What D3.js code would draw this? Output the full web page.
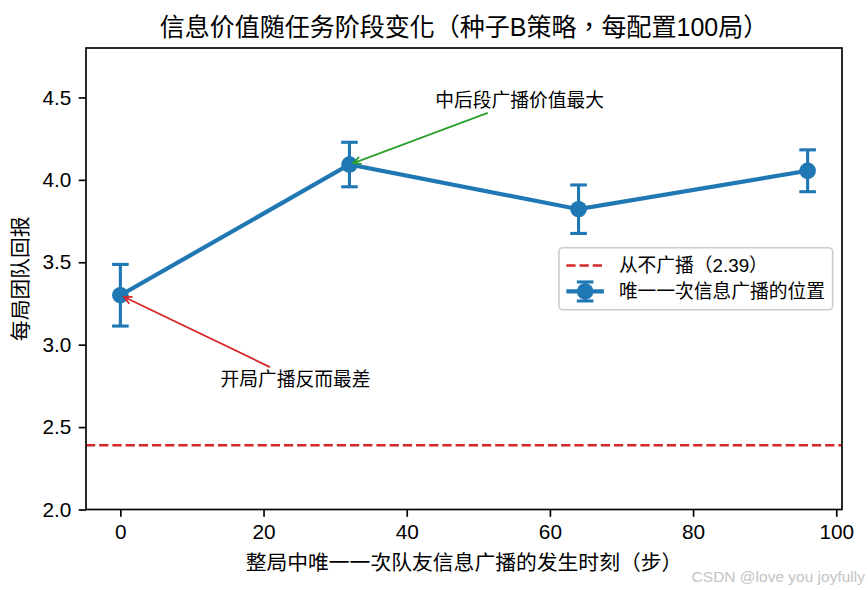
<!DOCTYPE html>
<html>
<head>
<meta charset="utf-8">
<script src="https://cdn.jsdelivr.net/npm/d3@7"></script>
<style>
    body { margin: 0; background: #fff; }
    text { font-family: 'Liberation Sans', 'Noto Sans CJK TC', sans-serif; }
</style>
</head>
<body>
<div class="chart"></div>
<script>
var width = 868
var height = 590

// data
var steps = [0, 32, 64, 96]
var meanReturn = [3.30, 4.093, 3.822, 4.055]
var errReturn = [0.187, 0.135, 0.147, 0.127]
var neverBroadcast = 2.39

var xTicks = [0, 20, 40, 60, 80, 100]
var yTicks = [2.0, 2.5, 3.0, 3.5, 4.0, 4.5]

var titleText = '信息价值随任务阶段变化（种子B策略，每配置100局）'
var xLabelText = '整局中唯一一次队友信息广播的发生时刻（步）'
var yLabelText = '每局团队回报'
var legendLabels = ['从不广播（2.39）', '唯一一次信息广播的位置']

// annotations: text, text position, arrow target, colour
var noteTexts = ['中后段广播价值最大', '开局广播反而最差']
var noteTextPos = [[44, 4.44], [14, 2.75]]
var noteTargets = [[32, 4.093], [0, 3.30]]
var noteColors = ['#2ca02c', '#d62728']

var margin = { left: 86, right: 26, top: 48, bottom: 80.5 }
var blue = '#1f77b4'

var svg = d3.select('.chart').append('svg')
    .attr('width', width)
    .attr('height', height)

svg.append('rect').attr('width', width).attr('height', height).attr('fill', '#fff')

var x = d3.scaleLinear()
    .domain([-4.8, 100.8])
    .range([margin.left, width - margin.right])

var y = d3.scaleLinear()
    .domain([2.0, 4.8])
    .range([height - margin.bottom, margin.top])

var x0 = x.range()[0], x1 = x.range()[1]
var y0 = y.range()[0], y1 = y.range()[1]

// never broadcast baseline
svg.append('line')
    .attr('x1', x0).attr('x2', x1)
    .attr('y1', y(neverBroadcast)).attr('y2', y(neverBroadcast))
    .attr('stroke', '#d62728')
    .attr('stroke-width', 2.5)
    .attr('stroke-dasharray', '9.2,4')

var pts = steps.map(function (s, i) { return { x: s, y: meanReturn[i], e: errReturn[i] } })

// main line
svg.append('path')
    .datum(pts)
    .attr('d', d3.line().x(function (d) { return x(d.x) }).y(function (d) { return y(d.y) }))
    .attr('fill', 'none')
    .attr('stroke', blue)
    .attr('stroke-width', 4.2)

// error bars
var eb = svg.append('g').selectAll('g').data(pts).enter().append('g')
eb.append('line')
    .attr('x1', function (d) { return x(d.x) }).attr('x2', function (d) { return x(d.x) })
    .attr('y1', function (d) { return y(d.y - d.e) }).attr('y2', function (d) { return y(d.y + d.e) })
    .attr('stroke', blue).attr('stroke-width', 3.1)
eb.append('line')
    .attr('x1', function (d) { return x(d.x) - 8.3 }).attr('x2', function (d) { return x(d.x) + 8.3 })
    .attr('y1', function (d) { return y(d.y + d.e) }).attr('y2', function (d) { return y(d.y + d.e) })
    .attr('stroke', blue).attr('stroke-width', 3.1)
eb.append('line')
    .attr('x1', function (d) { return x(d.x) - 8.3 }).attr('x2', function (d) { return x(d.x) + 8.3 })
    .attr('y1', function (d) { return y(d.y - d.e) }).attr('y2', function (d) { return y(d.y - d.e) })
    .attr('stroke', blue).attr('stroke-width', 3.1)
eb.append('circle')
    .attr('cx', function (d) { return x(d.x) })
    .attr('cy', function (d) { return y(d.y) })
    .attr('r', 8.3)
    .attr('fill', blue)

// axes
var xAxis = svg.append('g')
    .attr('transform', 'translate(0,' + y0 + ')')
    .call(d3.axisBottom(x).tickValues(xTicks).tickSize(7.3).tickPadding(7.3).tickFormat(d3.format('d')))
var yAxis = svg.append('g')
    .attr('transform', 'translate(' + x0 + ',0)')
    .call(d3.axisLeft(y).tickValues(yTicks).tickSize(7.3).tickPadding(7.3).tickFormat(d3.format('.1f')))

;[xAxis, yAxis].forEach(function (g) {
    g.select('.domain').remove()
    g.selectAll('.tick line').attr('stroke', '#000').attr('stroke-width', 1.67)
    g.selectAll('.tick text').attr('fill', '#000').style('font-size', '20.8px')
})

// frame
svg.append('rect')
    .attr('x', x0).attr('y', y1)
    .attr('width', x1 - x0).attr('height', y0 - y1)
    .attr('fill', 'none')
    .attr('stroke', '#000')
    .attr('stroke-width', 1.67)

// titles
svg.append('text')
    .attr('x', (x0 + x1) / 2).attr('y', 36)
    .attr('text-anchor', 'middle')
    .style('font-size', '25px')
    .text(titleText)

svg.append('text')
    .attr('x', (x0 + x1) / 2).attr('y', 570)
    .attr('text-anchor', 'middle')
    .style('font-size', '20.8px')
    .text(xLabelText)

svg.append('text')
    .attr('transform', 'translate(28,' + ((y0 + y1) / 2) + ') rotate(-90)')
    .attr('text-anchor', 'middle')
    .style('font-size', '20.8px')
    .text(yLabelText)

// annotations with '->' arrows
noteTexts.forEach(function (t, i) {
    var txt = svg.append('text')
        .attr('x', x(noteTextPos[i][0]))
        .attr('y', y(noteTextPos[i][1]))
        .style('font-size', '18.75px')
        .text(t)
    var bb = txt.node().getBBox()
    var cx = bb.x + bb.width / 2, cy = bb.y + bb.height / 2
    var px = x(noteTargets[i][0]), py = y(noteTargets[i][1])
    var dx = px - cx, dy = py - cy
    var len = Math.sqrt(dx * dx + dy * dy)
    var ux = dx / len, uy = dy / len
    var tEdge = Math.min((bb.width / 2) / Math.abs(dx), (bb.height / 2) / Math.abs(dy))
    var sx = cx + dx * tEdge + ux * 4.2, sy = cy + dy * tEdge + uy * 4.2
    var ex = px - ux * 4.2, ey = py - uy * 4.2
    var hl = 7.5, hw = 3.75
    var bx = ex - ux * hl, by = ey - uy * hl
    svg.append('path')
        .attr('d', 'M' + sx + ',' + sy + 'L' + ex + ',' + ey +
            'M' + (bx - uy * hw) + ',' + (by + ux * hw) + 'L' + ex + ',' + ey +
            'L' + (bx + uy * hw) + ',' + (by - ux * hw))
        .attr('fill', 'none')
        .attr('stroke', noteColors[i])
        .attr('stroke-width', 1.8)
})

// legend, centre right
var fs = 18.75
var leg = svg.append('g')
var legText = leg.selectAll('text').data(legendLabels).enter().append('text')
    .style('font-size', fs + 'px')
    .attr('dy', '0.35em')
    .text(function (d) { return d })
var textW = d3.max(legText.nodes(), function (n) { return n.getComputedTextLength() })
var legW = 0.4 * fs + 2 * fs + 0.8 * fs + textW + 0.4 * fs
var legH = 62
var legX = x1 - 0.5 * fs - legW
var legY = (y0 + y1) / 2 - legH / 2
leg.insert('rect', 'text')
    .attr('x', legX).attr('y', legY)
    .attr('width', legW).attr('height', legH)
    .attr('rx', 4)
    .attr('fill', '#fff').attr('fill-opacity', 0.8)
    .attr('stroke', '#cccccc').attr('stroke-width', 1.6)
var hx0 = legX + 0.4 * fs, hx1 = hx0 + 2 * fs, hxm = (hx0 + hx1) / 2
var rowY = [legY + 17.7, legY + 43.7]
legText.attr('x', hx1 + 0.8 * fs).attr('y', function (d, i) { return rowY[i] })
leg.append('line')
    .attr('x1', hx0).attr('x2', hx1).attr('y1', rowY[0]).attr('y2', rowY[0])
    .attr('stroke', '#d62728').attr('stroke-width', 2.5).attr('stroke-dasharray', '9.2,4')
leg.append('line')
    .attr('x1', hx0).attr('x2', hx1).attr('y1', rowY[1]).attr('y2', rowY[1])
    .attr('stroke', blue).attr('stroke-width', 4.2)
leg.append('line')
    .attr('x1', hxm).attr('x2', hxm).attr('y1', rowY[1] - 9.5).attr('y2', rowY[1] + 9.5)
    .attr('stroke', blue).attr('stroke-width', 3.1)
;[-9.5, 9.5].forEach(function (o) {
    leg.append('line')
        .attr('x1', hxm - 8.3).attr('x2', hxm + 8.3).attr('y1', rowY[1] + o).attr('y2', rowY[1] + o)
        .attr('stroke', blue).attr('stroke-width', 3.1)
})
leg.append('circle').attr('cx', hxm).attr('cy', rowY[1]).attr('r', 8.3).attr('fill', blue)

// watermark
svg.append('text')
    .attr('x', 865).attr('y', 582)
    .attr('text-anchor', 'end')
    .attr('fill', '#c4c4c4')
    .style('font-size', '15.5px')
    .text('CSDN @love you joyfully')
</script>
</body>
</html>
